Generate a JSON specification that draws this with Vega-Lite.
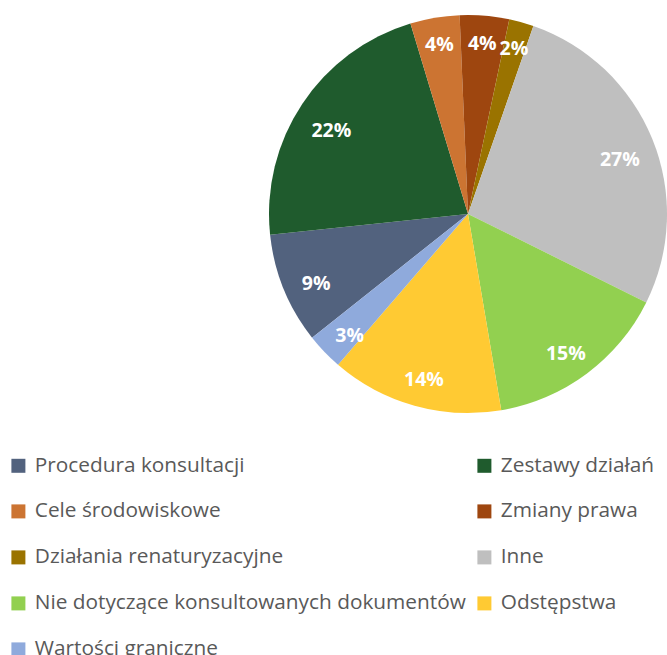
{
  "$schema": "https://vega.github.io/schema/vega-lite/v6.json",
  "autosize": {"type": "none"},
  "padding": {"left": 269, "top": 15, "right": 0, "bottom": 242},
  "width": 398,
  "height": 398,
  "background": "white",
  "config": {"view": {"stroke": null}},
  "data": {"values": [
    {"k": 1, "category": "Procedura konsultacji", "share": 0.09},
    {"k": 2, "category": "Zestawy działań", "share": 0.22},
    {"k": 3, "category": "Cele środowiskowe", "share": 0.04},
    {"k": 4, "category": "Zmiany prawa", "share": 0.04},
    {"k": 5, "category": "Działania renaturyzacyjne", "share": 0.02},
    {"k": 6, "category": "Inne", "share": 0.27},
    {"k": 7, "category": "Nie dotyczące konsultowanych dokumentów", "share": 0.15},
    {"k": 8, "category": "Odstępstwa", "share": 0.14},
    {"k": 9, "category": "Wartości graniczne", "share": 0.03}
  ]},
  "encoding": {
    "theta": {"field": "share", "type": "quantitative", "stack": true, "scale": {"range": [4.042, 10.325]}},
    "order": {"field": "k", "type": "quantitative"}
  },
  "layer": [
    {
      "mark": {"type": "arc", "stroke": null},
      "encoding": {
        "color": {
          "field": "category", "type": "nominal",
          "scale": {
            "domain": ["Procedura konsultacji", "Zestawy działań", "Cele środowiskowe", "Zmiany prawa", "Działania renaturyzacyjne", "Inne", "Nie dotyczące konsultowanych dokumentów", "Odstępstwa", "Wartości graniczne"],
            "range": ["#52627E", "#1F5B2D", "#CC7432", "#9E460F", "#9A7300", "#BFBFBF", "#92D050", "#FFCA33", "#8FAADC"]
          },
          "legend": {
            "title": null,
            "orient": "none",
            "legendX": -261,
            "legendY": 440,
            "direction": "horizontal",
            "columns": 2,
            "columnPadding": 8,
            "rowPadding": 24,
            "symbolType": "square",
            "symbolSize": 196,
            "symbolStrokeWidth": 0,
            "symbolOffset": 0,
            "labelFont": "Open Sans",
            "labelFontSize": 20.8,
            "labelColor": "#595959",
            "labelOffset": 6,
            "labelLimit": 500
          }
        }
      }
    },
    {
      "mark": {"type": "text", "radius": 164, "dy": 8, "font": "Open Sans", "fontWeight": "bold", "fontSize": 19.5, "color": "white", "align": "center", "baseline": "middle"},
      "encoding": {
        "text": {"field": "share", "type": "quantitative", "format": ".0%"},
        "detail": {"field": "category"},
        "opacity": {"condition": {"test": "datum.k >= 3 && datum.k <= 5", "value": 0}, "value": 1}
      }
    },
    {
      "mark": {"type": "text", "radius": 171, "dy": 0, "font": "Open Sans", "fontWeight": "bold", "fontSize": 19.5, "color": "white", "align": "center", "baseline": "middle"},
      "encoding": {
        "text": {"field": "share", "type": "quantitative", "format": ".0%"},
        "detail": {"field": "category"},
        "opacity": {"condition": {"test": "datum.k >= 3 && datum.k <= 5", "value": 1}, "value": 0}
      }
    }
  ]
}
